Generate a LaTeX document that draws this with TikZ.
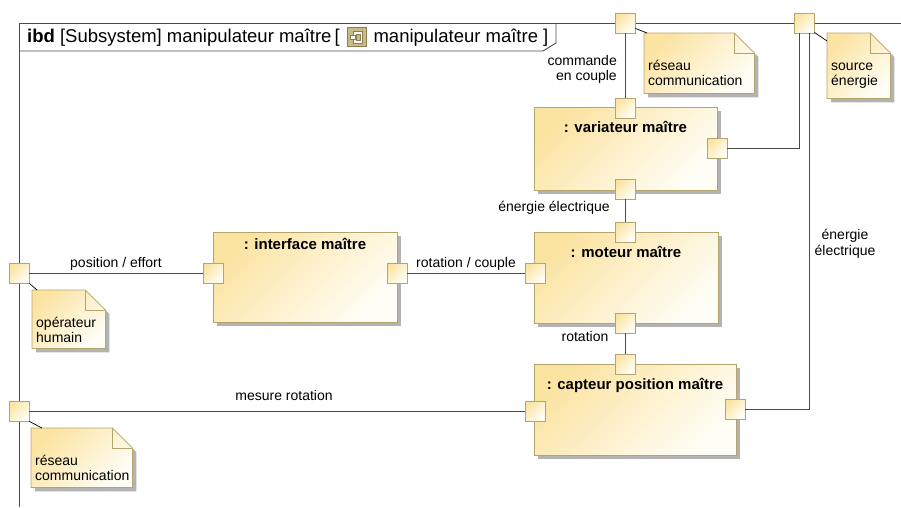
\documentclass[tikz,border=0pt]{standalone}
\usepackage{fontspec}
\setmainfont{Liberation Sans}
\usetikzlibrary{positioning,shadows}
\definecolor{tanline}{HTML}{B4A46E}
\definecolor{yelTop}{HTML}{FBE3A2}
\definecolor{yelBot}{HTML}{FFFEF6}
\definecolor{shadowgray}{HTML}{B3B3B3}
\definecolor{lineg}{HTML}{4A4A4A}
\definecolor{iconfill}{HTML}{C8BB8B}
\definecolor{icondark}{HTML}{8C7E52}
\newcommand\lblfont{\fontsize{14}{15.5}\selectfont}
\newcommand\titlefont{\fontsize{15}{17}\selectfont\bfseries}
\newcommand\hdrfont{\fontsize{18.5}{21}\selectfont}
\begin{document}
\begin{tikzpicture}[x=1pt,y=-1pt,
  blockbox/.style={draw=tanline, line width=0.8pt, top color=yelTop, bottom color=yelBot, shading angle=45, inner sep=0,
    drop shadow={shadow xshift=4pt, shadow yshift=-4pt, fill=shadowgray, opacity=1}},
  portbox/.style={draw=tanline, line width=0.8pt, top color=yelTop, bottom color=yelBot, shading angle=45, minimum size=20pt, inner sep=0},
  notearea/.style={inner sep=0, anchor=north west},
  notefill/.style={top color=yelTop, bottom color=yelBot, shading angle=45, draw=tanline, line width=0.8pt},
  notetext/.style={anchor=north west, inner sep=0, align=left, font=\lblfont},
  blocktitle/.style={anchor=north, inner sep=0, yshift=-14pt, font=\titlefont},
  lbl/.style={inner sep=0, align=center, font=\lblfont},
  conn/.style={draw=lineg, line width=0.9pt},
  leader/.style={draw=black, line width=0.7pt},
  hdrtext/.style={inner sep=0, font=\hdrfont},
  iconbox/.style={draw=icondark, fill=iconfill, minimum size=19pt, inner sep=0}]
\useasboundingbox (0,0) rectangle (901,507);
% frame
\draw[conn] (19,507) -- (19,23) -- (901,23);
\draw[conn] (556,23) -- (556,43) -- (543,51) -- (19,51);
\node (hdrA) [hdrtext, anchor=base west] at (27,42) {\textbf{ibd} [Subsystem] manipulateur maître\,[};
\node (hdrIcon) [iconbox, right=7pt of hdrA] {};
\node (hdrB) [hdrtext, right=7pt of hdrIcon] {manipulateur maître ]};
\draw[icondark, fill=yelBot] ([shift={(-3pt,6pt)}]hdrIcon.center) rectangle ([shift={(6pt,-6pt)}]hdrIcon.center);
\draw[icondark, fill=yelBot] ([shift={(-6pt,2pt)}]hdrIcon.center) rectangle ([shift={(-1pt,-2pt)}]hdrIcon.center);
\draw[icondark, fill=iconfill] ([shift={(0pt,3pt)}]hdrIcon.center) rectangle ([shift={(4pt,-3pt)}]hdrIcon.center);
% blocks
\node (bVar) [blockbox, minimum width=183pt, minimum height=83pt, label={[blocktitle]north:{: variateur maître}}] at (625.5,148.5) {};
\node (bMot) [blockbox, minimum width=184pt, minimum height=91pt, label={[blocktitle]north:{: moteur maître}}] at (626,277.5) {};
\node (bInt) [blockbox, minimum width=184pt, minimum height=90pt, label={[blocktitle, yshift=8pt]north:{: interface maître}}] at (305,277) {};
\node (bCap) [blockbox, minimum width=202pt, minimum height=91pt, label={[blocktitle]north:{: capteur position maître}}] at (635,409.5) {};
% ports
\node (pFrCmd) [portbox] at (625,23) {};
\node (pFrSrc) [portbox] at (804,23) {};
\node (pFrHum) [portbox] at (19,273) {};
\node (pFrMes) [portbox] at (19,411) {};
\node (pVarTop) [portbox] at (625,108) {};
\node (pVarR) [portbox] at (717,148) {};
\node (pVarBot) [portbox] at (625,189) {};
\node (pMotTop) [portbox] at (625,232) {};
\node (pMotL) [portbox] at (535,273) {};
\node (pMotBot) [portbox] at (625,323) {};
\node (pIntL) [portbox] at (213,273) {};
\node (pIntR) [portbox] at (397,273) {};
\node (pCapTop) [portbox] at (625,364) {};
\node (pCapL) [portbox] at (535,411) {};
\node (pCapR) [portbox] at (735,409) {};
% connectors
\draw[conn] (pFrCmd.south) -- (pVarTop.north);
\draw[conn] (pVarR.east) -| ([xshift=-5pt]pFrSrc.south);
\draw[conn] (pCapR.east) -| ([xshift=5pt]pFrSrc.south);
\draw[conn] (pVarBot.south) -- (pMotTop.north);
\draw[conn] (pMotBot.south) -- (pCapTop.north);
\draw[conn] (pFrHum.east) -- (pIntL.west);
\draw[conn] (pIntR.east) -- (pMotL.west);
\draw[conn] (pFrMes.east) -- (pCapL.west);
% notes
\node (nTop) [notearea, minimum width=110pt, minimum height=60pt] at (644,33) {};
\node (nSrc) [notearea, minimum width=63pt, minimum height=65pt] at (827,33) {};
\node (nHum) [notearea, minimum width=73pt, minimum height=58pt] at (32,290) {};
\node (nMes) [notearea, minimum width=101pt, minimum height=59pt] at (31,428) {};
\foreach \nt in {nTop,nSrc,nHum,nMes}{
  \fill[shadowgray] ([shift={(4pt,-4pt)}]\nt.north west) -- ([shift={(-16pt,-4pt)}]\nt.north east)
    -- ([shift={(4pt,-24pt)}]\nt.north east) -- ([shift={(4pt,-4pt)}]\nt.south east) -- ([shift={(4pt,-4pt)}]\nt.south west) -- cycle;
  \path[notefill] (\nt.north west) -- ([xshift=-20pt]\nt.north east) -- ([yshift=-20pt]\nt.north east)
    -- (\nt.south east) -- (\nt.south west) -- cycle;
  \draw[tanline, line width=0.8pt] ([xshift=-20pt]\nt.north east) |- ([yshift=-20pt]\nt.north east);
}
\node (tTop) [notetext] at ([shift={(4pt,-26pt)}]nTop.north west) {\strut réseau\\communication};
\node (tSrc) [notetext] at ([shift={(4pt,-26pt)}]nSrc.north west) {\strut source\\énergie};
\node (tHum) [notetext] at ([shift={(4pt,-26pt)}]nHum.north west) {\strut opérateur\\humain};
\node (tMes) [notetext] at ([shift={(4pt,-26pt)}]nMes.north west) {\strut réseau\\communication};
\draw[leader] ([yshift=5pt]pFrCmd.south east) -- ([xshift=3pt]nTop.north west);
\draw[leader] ([yshift=1pt]pFrSrc.south east) -- ([yshift=-8pt]nSrc.north west);
\draw[leader] (pFrHum.south east) -- ([xshift=5pt]nHum.north west);
\draw[leader] (pFrMes.south east) -- ([xshift=11pt]nMes.north west);
% connector labels
\node (lCmd) [lbl, align=right, anchor=east] at (617,69.5) {commande\\en couple};
\node (lEnerA) [lbl] at (554,208) {énergie électrique};
\node (lRot) [lbl] at (585,336) {rotation};
\node (lPos) [lbl] at (116,264) {position / effort};
\node (lRotC) [lbl] at (466,264) {rotation / couple};
\node (lMes) [lbl] at (284,395) {mesure rotation};
\node (lEnerB) [lbl] at (845,244) {énergie\\électrique};
\end{tikzpicture}
\end{document}
